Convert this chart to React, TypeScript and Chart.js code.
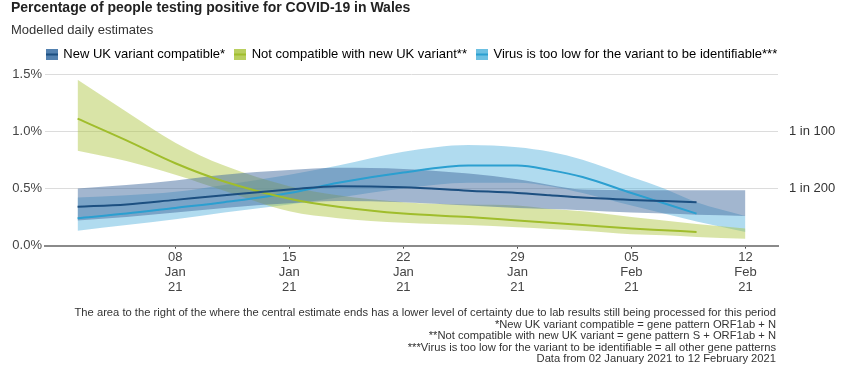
import React, { useEffect, useRef } from 'react';
import { Chart, registerables } from 'chart.js';

Chart.register(...registerables);

// ---- data (day 0 = 02 Jan 2021) ----
const days = [0, 3, 6, 9, 13, 16, 20, 24, 27, 29, 31, 34, 36, 38, 41];

const newUkCentral = [0.34, 0.36, 0.4, 0.44, 0.49, 0.52, 0.51, 0.48, 0.46, 0.44, 0.42, 0.4, 0.39, 0.38];
const newUkUpper = [0.5, 0.53, 0.57, 0.62, 0.66, 0.68, 0.67, 0.63, 0.58, 0.53, 0.49, 0.485, 0.485, 0.485, 0.485];
const newUkLower = [0.22, 0.25, 0.29, 0.33, 0.37, 0.39, 0.38, 0.35, 0.33, 0.32, 0.31, 0.29, 0.28, 0.27, 0.26];

const notCompCentral = [1.11, 0.92, 0.72, 0.56, 0.41, 0.34, 0.28, 0.25, 0.22, 0.2, 0.18, 0.15, 0.135, 0.12];
const notCompUpper = [1.45, 1.17, 0.9, 0.7, 0.52, 0.44, 0.38, 0.36, 0.35, 0.32, 0.3, 0.25, 0.22, 0.19, 0.15];
const notCompLower = [0.83, 0.74, 0.62, 0.48, 0.3, 0.24, 0.2, 0.18, 0.16, 0.145, 0.13, 0.1, 0.09, 0.075, 0.06];

const tooLowCentral = [0.24, 0.28, 0.33, 0.38, 0.46, 0.55, 0.64, 0.7, 0.7, 0.66, 0.6, 0.46, 0.37, 0.28];
const tooLowUpper = [0.42, 0.44, 0.47, 0.53, 0.62, 0.7, 0.82, 0.88, 0.86, 0.82, 0.75, 0.6, 0.5, 0.38, 0.26];
const tooLowLower = [0.13, 0.18, 0.23, 0.29, 0.36, 0.42, 0.5, 0.55, 0.55, 0.52, 0.46, 0.35, 0.28, 0.21, 0.12];

const tickDays = [6, 13, 20, 27, 34, 41];
const tickLabels = [
  ['08', 'Jan', '21'],
  ['15', 'Jan', '21'],
  ['22', 'Jan', '21'],
  ['29', 'Jan', '21'],
  ['05', 'Feb', '21'],
  ['12', 'Feb', '21'],
];
const yTicks = [0, 0.5, 1.0, 1.5];
const rightTickValues = [0.5, 1.0];
const rightTickLabels = ['1 in 200', '1 in 100'];

const legendLabels = [
  'New UK variant compatible*',
  'Not compatible with new UK variant**',
  'Virus is too low for the variant to be identifiable***',
];

const titleText = 'Percentage of people testing positive for COVID-19 in Wales';
const subtitleText = 'Modelled daily estimates';
const footnotes = [
  'The area to the right of the where the central estimate ends has a lower level of certainty due to lab results still being processed for this period',
  '*New UK variant compatible = gene pattern ORF1ab + N',
  '**Not compatible with new UK variant = gene pattern S + ORF1ab + N',
  '***Virus is too low for the variant to be identifiable = all other gene patterns',
  'Data from 02 January 2021 to 12 February 2021',
];

// ---- styles ----
const FONT = '"Liberation Sans", Arial, Helvetica, sans-serif';
const lineColors = ['#1c4f80', '#a0bd2c', '#2b9fd0'];
const bandColors = ['rgba(70,110,160,0.5)', 'rgba(170,195,60,0.45)', 'rgba(80,175,220,0.45)'];
const swatchColors = ['#5381b0', '#b9cf5e', '#6cc0e2'];

function pts(values: number[]) {
  return values.map((y, i) => ({ x: days[i], y }));
}

function makeSwatch(fill: string, line: string) {
  const c = document.createElement('canvas');
  c.width = 12;
  c.height = 11;
  const g = c.getContext('2d')!;
  g.fillStyle = fill;
  g.fillRect(0, 0, 12, 11);
  g.fillStyle = line;
  g.fillRect(0, 4.5, 12, 2);
  return c;
}

const textPlugin = {
  id: 'extraTexts',
  afterDraw(chart: any) {
    const ctx = chart.ctx;
    ctx.save();
    ctx.textBaseline = 'alphabetic';
    ctx.textAlign = 'left';
    ctx.fillStyle = '#222';
    ctx.font = `bold 14px ${FONT}`;
    ctx.fillText(titleText, 11, 12);
    ctx.fillStyle = '#333';
    ctx.font = `13px ${FONT}`;
    ctx.fillText(subtitleText, 11, 34);
    ctx.font = `11.2px ${FONT}`;
    ctx.textAlign = 'right';
    footnotes.forEach((t, i) => ctx.fillText(t, 776, 316 + i * 11.5));
    ctx.restore();
  },
};

const legendSpacer = {
  id: 'legendSpacer',
  beforeLayout(chart: any) {
    const lg = chart.legend;
    if (lg && !lg._patched) {
      const orig = lg.fit;
      lg.fit = function () {
        orig.call(this);
        this.height += 3;
      };
      lg._patched = true;
    }
  },
  afterLayout(chart: any) {
    const lg = chart.legend;
    if (lg) {
      lg.right = 824;
    }
  },
};

export default function App() {
  const ref = useRef<HTMLCanvasElement>(null);

  useEffect(() => {
    document.body.style.margin = '0';
    Chart.defaults.font.family = FONT;
    const swatches = [0, 1, 2].map((i) => makeSwatch(swatchColors[i], lineColors[i]));

    const central = [newUkCentral, notCompCentral, tooLowCentral];
    const uppers = [newUkUpper, notCompUpper, tooLowUpper];
    const lowers = [newUkLower, notCompLower, tooLowLower];

    const datasets: any[] = [];
    central.forEach((vals, i) => {
      datasets.push({
        label: legendLabels[i],
        data: pts(vals),
        borderColor: lineColors[i],
        borderWidth: 2,
        fill: false,
        cubicInterpolationMode: 'monotone',
        pointRadius: 0,
        yAxisID: 'y',
      });
    });
    [0, 1, 2].forEach((i) => {
      datasets.push({
        label: legendLabels[i] + ' upper',
        data: pts(uppers[i]),
        borderWidth: 0,
        borderColor: 'transparent',
        backgroundColor: bandColors[i],
        fill: '+1',
        cubicInterpolationMode: 'monotone',
        pointRadius: 0,
        yAxisID: 'y',
      });
      datasets.push({
        label: legendLabels[i] + ' lower',
        data: pts(lowers[i]),
        borderWidth: 0,
        borderColor: 'transparent',
        fill: false,
        cubicInterpolationMode: 'monotone',
        pointRadius: 0,
        yAxisID: 'y',
      });
    });

    const chart = new Chart(ref.current!, {
      type: 'line',
      data: { datasets },
      plugins: [textPlugin, legendSpacer],
      options: {
        animation: false,
        responsive: false,
        layout: { padding: { top: 38, left: 0, right: 0, bottom: 76.5 } },
        plugins: {
          tooltip: { enabled: false },
          title: { display: false },
          legend: {
            display: true,
            position: 'top',
            onClick: () => {},
            labels: {
              usePointStyle: true,
              pointStyleWidth: 10,
              boxHeight: 12,
              padding: 10,
              color: '#333',
              font: { size: 13, family: FONT },
              generateLabels: () =>
                legendLabels.map((t, i) => ({
                  text: t,
                  pointStyle: swatches[i] as any,
                  fillStyle: swatchColors[i],
                  strokeStyle: lineColors[i],
                  lineWidth: 0,
                  hidden: false,
                  datasetIndex: i,
                })),
            },
          },
        },
        scales: {
          x: {
            type: 'linear',
            min: -2,
            max: 43,
            afterBuildTicks: (ax: any) => {
              ax.ticks = tickDays.map((v) => ({ value: v }));
            },
            ticks: {
              callback: (_v: any, i: number) => tickLabels[i],
              font: { size: 13, lineHeight: 1.15 },
              color: '#444',
              padding: 1,
              maxRotation: 0,
              autoSkip: false,
            },
            grid: { drawOnChartArea: false, drawTicks: true, tickLength: 3, tickColor: '#444' },
            border: { display: true, color: '#8a8a8a', width: 2 },
          },
          y: {
            position: 'left',
            min: 0,
            max: 1.5,
            afterBuildTicks: (ax: any) => {
              ax.ticks = yTicks.map((v) => ({ value: v }));
            },
            afterFit: (s: any) => {
              s.width = 45;
            },
            ticks: {
              callback: (v: any) => Number(v).toFixed(1) + '%',
              padding: 3,
              font: { size: 13 },
              color: '#444',
            },
            grid: {
              drawTicks: false,
              color: (c: any) => (c.tick && c.tick.value === 0 ? 'rgba(0,0,0,0)' : '#dcdcdc'),
            },
            border: { display: false },
          },
          y2: {
            position: 'right',
            min: 0,
            max: 1.5,
            afterBuildTicks: (ax: any) => {
              ax.ticks = rightTickValues.map((v) => ({ value: v }));
            },
            afterFit: (s: any) => {
              s.width = 72;
            },
            ticks: {
              callback: (_v: any, i: number) => rightTickLabels[i],
              padding: 3,
              font: { size: 13 },
              color: '#333',
            },
            grid: { display: false },
            border: { display: false },
          },
        },
      } as any,
    });
    return () => chart.destroy();
  }, []);

  return (
    <div style={{ width: 850, height: 372 }}>
      <canvas ref={ref} width={850} height={372} style={{ display: 'block' }} />
    </div>
  );
}
